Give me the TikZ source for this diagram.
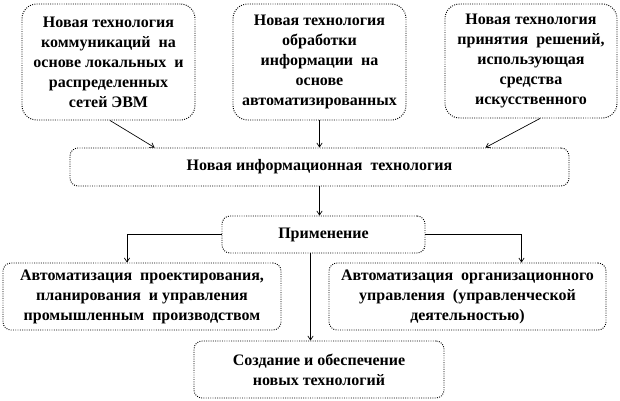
\documentclass[tikz,border=0pt]{standalone}
\usepackage{fontspec}
\setmainfont{Liberation Serif}[BoldFont={Liberation Serif Bold}]
\usetikzlibrary{arrows.meta}
\usetikzlibrary{calc}

\tikzset{
  blk/.style={draw, densely dotted, line width=0.7pt, align=center, inner sep=1pt,
    font=\fontsize{12}{15}\selectfont\bfseries},
  bigblk/.style={blk, rounded corners=11pt},
  smallblk/.style={blk, rounded corners=6pt},
  sz/.style 2 args={minimum width=#1*0.75pt, minimum height=#2*0.75pt},
  con/.style={draw, line width=0.5pt, -{Straight Barb[length=3pt,width=4pt]}},
}

\begin{document}
\begin{tikzpicture}[x=0.75pt,y=0.75pt,yscale=-1,xscale=1]
\useasboundingbox (0,0) rectangle (620,400);

% Top Blocks
\node [bigblk, sz={173}{116}] (comm) at (108.5,62) {Новая технология\\коммуникаций~ на\\основе локальных~ и\\распределенных\\сетей ЭВМ};
\node [bigblk, sz={173}{116}] (proc) at (319.5,62) {Новая технология\\обработки\\информации~ на\\основе\\автоматизированных};
\node [bigblk, sz={172}{114}] (dec) at (531,61) {Новая технология\\принятия~ решений,\\использующая\\средства\\искусственного};

% Middle Blocks
\node [smallblk, sz={499}{38}] (nit) at (319.5,167) {Новая информационная~ технология};
\node [smallblk, sz={203}{37}] (use) at (323.5,234.5) {Применение};

% Bottom Blocks
\node [smallblk, sz={278}{67}] (cad) at (142,296.5) {Автоматизация~ проектирования,\\планирования~ и управления\\промышленным~ производством};
\node [smallblk, sz={277}{67}] (org) at (467.5,296.5) {Автоматизация~ организационного\\управления~ (управленческой\\деятельностью)};
\node [smallblk, sz={250}{57}] (newt) at (319,369.5) {Создание и обеспечение\\новых технологий};

% Connectors
\coordinate (down) at ($(use.south)+(-13,0)$);
\draw [con] ($(comm.south)+(1.5,0)$) -- ($(nit.north west)+(85,0)$);
\draw [con] (proc.south) -- (proc.south |- nit.north);
\draw [con] ($(dec.south)+(9,0)$) -- ($(nit.north east)+(-84,0)$);
\draw [con] (nit.south) -- (nit.south |- use.north);
\draw [con] (use.west) -| ($(cad.north)+(-15,0)$);
\draw [con] (use.east) -| ($(org.north)+(54,0)$);
\draw [con] (down) -- (down |- newt.north);

\end{tikzpicture}
\end{document}
